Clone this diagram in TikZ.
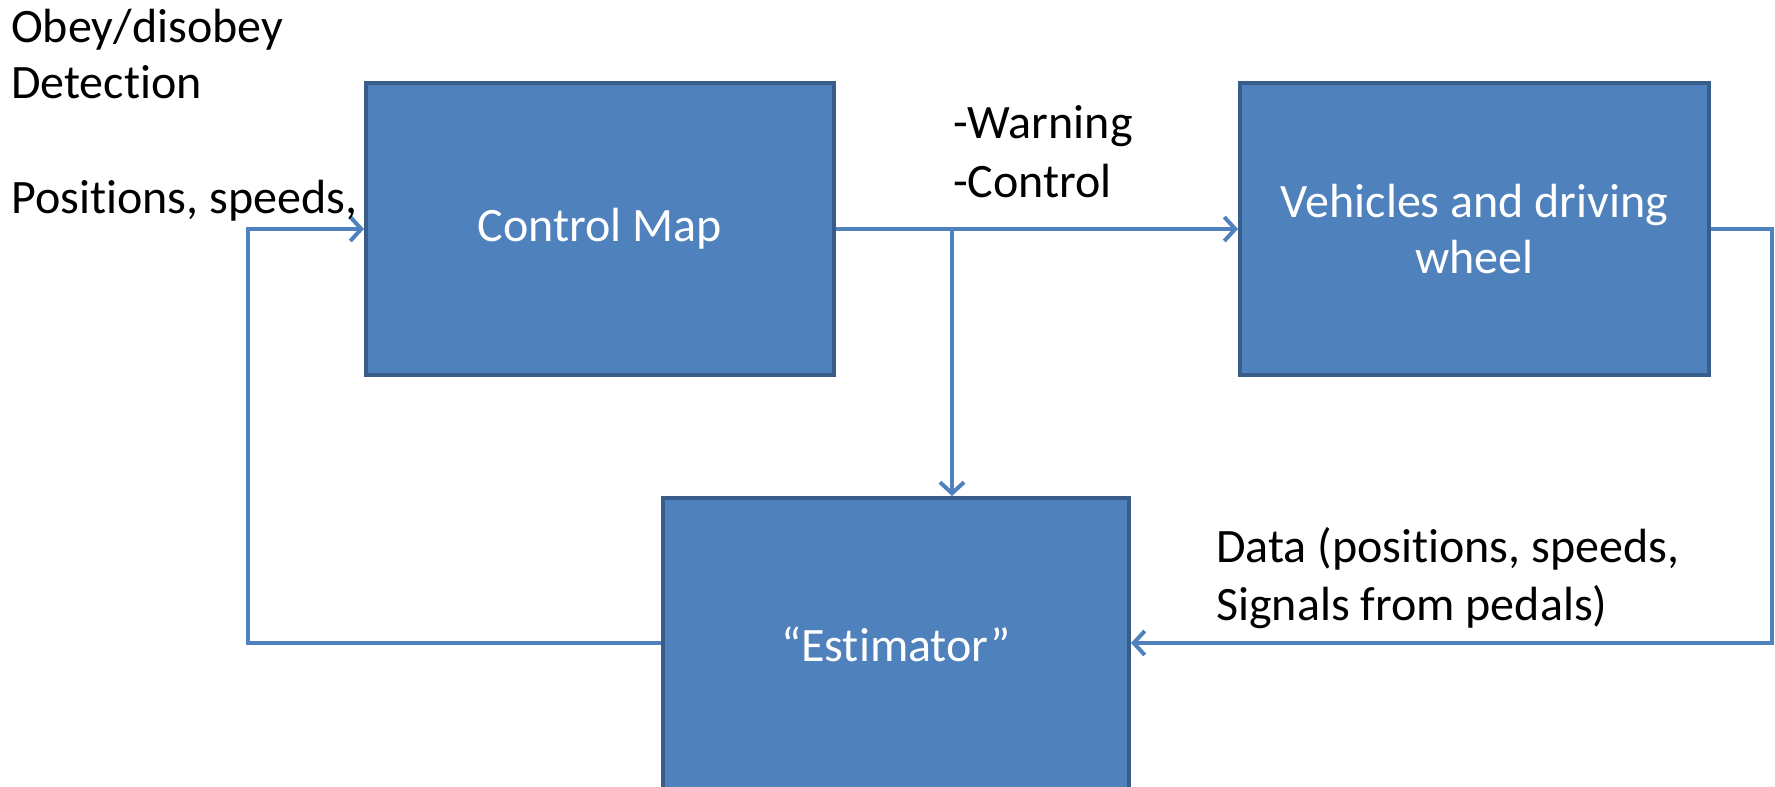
\documentclass[tikz,border=0pt]{standalone}
\usepackage{fontspec}
\setmainfont{Carlito}[Ligatures={NoCommon,NoContextual}]
\usetikzlibrary{arrows.meta}
\definecolor{boxfill}{HTML}{4F81BD}
\definecolor{boxedge}{HTML}{385D8A}
\definecolor{linecol}{HTML}{4F81BD}
\tikzset{
  block/.style={draw=boxedge, line width=4pt, fill=boxfill, text=white, align=center,
    font=\fontsize{48}{56}\selectfont, inner sep=0pt},
  conn/.style={draw=linecol, line width=4pt},
  arr/.style={conn, -{Straight Barb[length=11pt,width=24pt,line width=4pt]}},
  lbl/.style={font=\fontsize{48}{59}\selectfont, inner sep=0pt, anchor=base west, align=left}
}
\begin{document}
\begin{tikzpicture}[x=1pt,y=-1pt]
\useasboundingbox (0,0) rectangle (1775,787);
\begin{scope}
\clip (0,0) rectangle (1775,787);
\node[block, minimum width=468pt, minimum height=292pt] (cm) at (600,229) {Control Map};
\node[block, minimum width=469pt, minimum height=292pt] (veh) at (1474.5,229) {Vehicles and driving\\wheel};
\node[block, minimum width=466pt, minimum height=292pt] (est) at (896,644) {“Estimator”};
\end{scope}
\coordinate (j) at (952,229);
\coordinate (r1) at (1772,229);
\coordinate (r2) at (1772,643);
\coordinate (l1) at (248,643);
\coordinate (l2) at (248,229);
\draw[arr] (cm.east) -- (veh.west);
\draw[arr] (j) -- (j |- est.north);
\draw[arr] (veh.east) -- (r1) -- (r2) -- (est.east |- r2);
\draw[arr] (est.west |- l1) -- (l1) -- (l2) -- (cm.west);
\node[lbl] (t1) at (11,42) {Obey/disobey};
\node[lbl] (t2) at (11,98) {Detection};
\node[lbl] (t3) at (11,213) {Positions, speeds,};
\node[lbl] (t4) at (953,138) {-Warning};
\node[lbl] (t5) at (953,197) {-Control};
\node[lbl] (t6) at (1216,562) {Data (positions, speeds,};
\node[lbl] (t7) at (1216,620) {Signals from pedals)};
\end{tikzpicture}
\end{document}
